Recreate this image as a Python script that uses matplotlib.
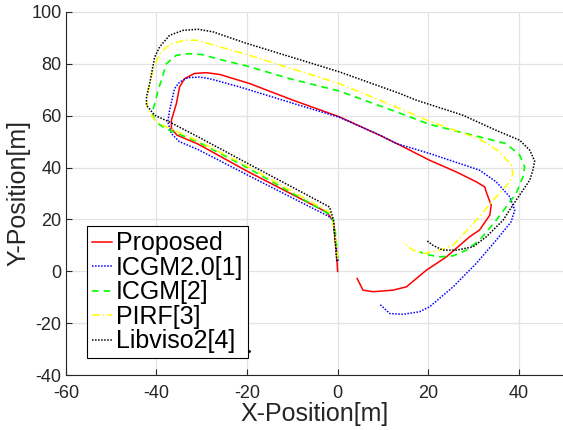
import numpy as np
import matplotlib
matplotlib.use('Agg')
import matplotlib.pyplot as plt

plt.rcParams['font.family'] = ['Liberation Sans', 'DejaVu Sans']
plt.rcParams['axes.unicode_minus'] = False

# Proposed
prop_x = [0, -0.3, -1.0, -2.5, -20.0, -30.8, -35.5, -36.7, -36.7, -35.6, -34.9, -33.8, -31.6, -29.0, -26.0,
          -19.4, -10.0, 0.4, 9.3, 14.0, 20.3, 26.2, 30.6, 32.5, 32.8, 33.9, 33.6, 31.3, 29.1, 24.0,
          19.6, 15.2, 12.2, 7.8, 5.6, 4.3]
prop_y = [0, 8.0, 19.7, 22.9, 38.6, 49.0, 52.5, 55.0, 58.2, 64.6, 71.0, 74.2, 76.2, 76.5, 75.8,
          72.3, 66.0, 59.5, 52.4, 48.4, 42.8, 38.3, 34.5, 32.5, 30.6, 25.5, 21.7, 15.9, 13.3, 5.6,
          0.5, -5.9, -7.2, -7.8, -7.2, -2.7]

# ICGM2.0[1]
icgm20_x = [0.1, -0.3, -1.0, -2.1, -20.0, -30.8, -35.0, -36.7, -37.5, -37.1, -36.0, -34.9, -33.0, -30.5,
            -28.3, -21.6, -10.6, 0.4, 9.3, 13.0, 20.3, 31.3, 35.0, 38.0, 39.1, 38.3, 35.0, 30.6, 25.5,
            20.3, 18.1, 14.4, 11.5, 9.3]
icgm20_y = [4.0, 10.0, 19.7, 21.3, 37.2, 46.9, 50.0, 53.1, 57.5, 62.0, 70.4, 72.9, 74.6, 74.8,
            74.2, 71.0, 65.1, 59.3, 52.5, 49.2, 45.4, 39.0, 34.5, 28.7, 23.6, 19.1, 12.0, 3.1, -5.9,
            -13.6, -15.5, -16.5, -16.2, -12.6]

# ICGM[2]
icgm_x = [0, -0.5, -1.3, -20.0, -30.8, -37.8, -40.2, -41.0, -40.3, -39.6, -38.9, -37.8, -35.6, -32.7,
          -30.1, -23.8, -20.5, -10.6, 0.4, 13.0, 20.3, 31.3, 37.2, 40.2, 41.3, 40.9, 39.4, 35.0,
          31.3, 28.4, 25.5, 22.5, 20.3, 18.1]
icgm_y = [5.0, 15.0, 21.5, 40.0, 49.8, 54.8, 57.5, 61.0, 65.0, 70.0, 73.6, 80.0, 83.2, 83.8,
          83.5, 80.6, 79.3, 74.2, 69.4, 61.4, 56.6, 51.8, 49.2, 44.7, 40.2, 36.4, 30.0, 19.7,
          12.0, 8.2, 6.0, 5.6, 6.3, 7.5]

# PIRF[3]
pirf_x = [0, -0.6, -1.5, -20.0, -30.8, -37.8, -40.0, -41.9, -42.2, -41.8, -40.8, -39.3, -37.1, -33.8,
          -31.2, -20.5, 0.4, 13.7, 20.3, 31.3, 35.8, 38.3, 38.7, 38.0, 34.3, 30.6, 25.5, 22.5,
          19.2, 16.6, 14.4]
pirf_y = [5.0, 15.0, 22.5, 40.6, 50.2, 55.6, 57.5, 62.0, 64.6, 70.0, 77.4, 83.8, 87.4, 89.0,
          89.0, 83.7, 72.3, 62.7, 57.8, 51.0, 46.0, 40.9, 37.7, 34.5, 27.4, 19.7, 10.1, 8.2,
          6.9, 8.2, 11.4]

# Libviso2[4]
libviso_x = [-0.2, -0.9, -1.8, -5.0, -20.0, -30.8, -37.1, -40.4, -42.2, -42.2, -41.5, -40.4, -39.3, -37.1,
             -34.1, -30.8, -27.5, -20.5, 0.4, 13.7, 17.4, 27.7, 35.0, 40.2, 42.4, 43.5, 43.1, 42.4,
             39.4, 36.5, 32.8, 29.9, 26.2, 23.2, 21.0, 19.6]
libviso_y = [4.0, 19.7, 24.8, 27.8, 41.7, 51.8, 57.5, 60.1, 64.0, 67.2, 72.3, 82.5, 86.4, 90.9,
             92.8, 93.2, 92.2, 88.0, 76.8, 68.5, 65.9, 60.1, 54.3, 50.5, 46.7, 42.5, 39.0, 35.1,
             27.4, 19.7, 13.3, 9.5, 8.2, 8.2, 10.1, 12.0]
stray_x = [-19.6]
stray_y = [-30.6]

fig = plt.figure(figsize=(5.63, 4.30), dpi=100)
ax = fig.add_axes([0.117, 0.127, 0.885, 0.846])

ax.plot(prop_x, prop_y, color='#ff0000', lw=1.1, label='Proposed')
ax.plot(icgm20_x, icgm20_y, color='#0000ff', lw=1.1, ls=(0, (1, 1)), label='ICGM2.0[1]')
ax.plot(icgm_x, icgm_y, color='#00ff00', lw=1.2, ls=(0, (4, 3)), label='ICGM[2]')
ax.plot(pirf_x, pirf_y, color='#ffff00', lw=1.1, ls=(0, (5, 2, 1, 2)), label='PIRF[3]')
ax.plot(libviso_x, libviso_y, color='#000000', lw=1.1, ls=(0, (1, 1)), label='Libviso2[4]')
ax.plot(stray_x, stray_y, 'k.', ms=2)

ax.set_xlim(-60, 50)
ax.set_ylim(-40, 100)
ax.set_xticks(np.arange(-60, 41, 20))
ax.set_yticks(np.arange(-40, 101, 20))
ax.grid(True, color='#e3e3e3', lw=0.9)
ax.set_axisbelow(True)
for s in ['top', 'right']:
    ax.spines[s].set_visible(False)
for s in ['left', 'bottom']:
    ax.spines[s].set_color('#262626')
    ax.spines[s].set_linewidth(0.8)
ax.tick_params(direction='in', length=4, width=0.8, colors='#262626', labelsize=13)
ax.tick_params(axis='x', pad=7)
ax.tick_params(axis='y', pad=3)

ax.set_xlabel('X-Position[m]', fontsize=18, color='#262626', labelpad=0)
ax.set_ylabel('Y-Position[m]', fontsize=18, color='#262626', labelpad=1)

leg = ax.legend(loc='lower left', bbox_to_anchor=(0.043, 0.047), borderaxespad=0,
                fontsize=18, handlelength=0.8, handletextpad=0.15, labelspacing=0.02,
                borderpad=0.2, fancybox=False, framealpha=1, edgecolor='#000000')
leg.get_frame().set_linewidth(0.8)
for t in leg.get_texts():
    t.set_color('#000000')

fig.savefig('out.png', dpi=100)
